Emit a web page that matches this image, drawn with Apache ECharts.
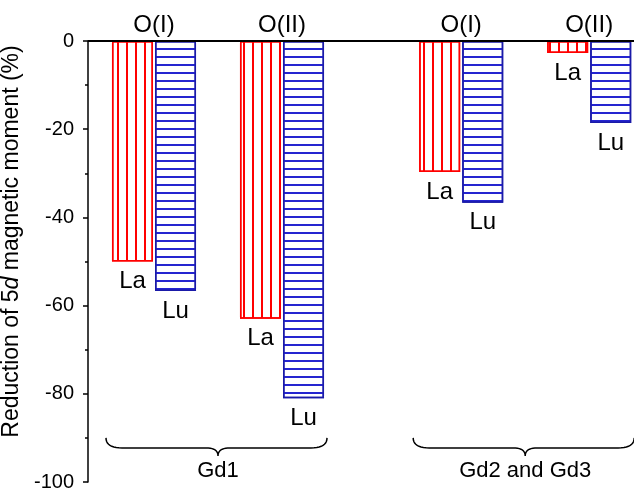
<!DOCTYPE html>
<html><head><meta charset="utf-8">
<script src="https://cdn.jsdelivr.net/npm/echarts@6/dist/echarts.min.js"></script>
<style>html,body{margin:0;padding:0;background:#fff}#c{width:634px;height:493px}</style>
</head><body><div id="c"></div>
<script>
// ---- data ----
const categories = ['O(I)', 'O(II)', 'O(I)', 'O(II)'];
const groupOf = [0, 0, 1, 1];
const groups = ['Gd1', 'Gd2 and Gd3'];
const seriesNames = ['La', 'Lu'];
const laValues = [-50, -63, -29.7, -2.7];
const luValues = [-56.7, -81, -36.7, -18.6];
const yTicks = [0, -20, -40, -60, -80, -100];

// ---- layout (slots on category axis) ----
const FONT = 'Liberation Sans, Arial, Helvetica, sans-serif';
const lead = 2, inGroup = 5, betweenGroups = 7, tail = 2;
const slotIdx = [];
let s = lead;
for (let i = 0; i < categories.length; i++) {
  if (i > 0) s += (groupOf[i] === groupOf[i - 1]) ? inGroup : betweenGroups;
  slotIdx.push(s);
}
const nSlots = s + tail;
const slotNames = [], slotLabels = [];
const laData = [], luData = [];
for (let k = 0; k < nSlots; k++) { slotNames.push('s' + k); slotLabels.push(''); laData.push(null); luData.push(null); }
slotIdx.forEach((k, i) => { slotLabels[k] = categories[i]; laData[k] = laValues[i]; luData[k] = luValues[i]; });

const gridLeft = 90, slotW = 25.6, yOffset = 2;
const chart = echarts.init(document.getElementById('c'), null, {renderer: 'canvas'});

function barSeries(name, data, border, decal) {
  return {
    name: name, type: 'bar', data: data, barWidth: 41, barGap: '5%', clip: false,
    itemStyle: {color: '#fff', borderColor: border, borderWidth: 1.5, decal: decal},
    label: {show: true, position: 'bottom', distance: 8, formatter: name,
      fontSize: 24, color: '#000', fontFamily: FONT},
    emphasis: {disabled: true}
  };
}

chart.setOption({
  animation: false,
  backgroundColor: '#fff',
  grid: {left: gridLeft, top: 41, bottom: 11, width: nSlots * slotW, outerBoundsMode: 'none', containLabel: false},
  xAxis: {
    type: 'category', position: 'top', data: slotNames, boundaryGap: true,
    axisLine: {show: true, onZero: false, lineStyle: {color: '#000', width: 2}},
    axisTick: {show: false},
    axisLabel: {interval: 0, formatter: (v, i) => slotLabels[i], fontSize: 24, color: '#000',
      fontFamily: FONT, margin: 4},
    splitLine: {show: false}
  },
  yAxis: {
    type: 'value', min: yTicks[yTicks.length - 1], max: yTicks[0], interval: 20, offset: yOffset,
    axisLine: {show: true, lineStyle: {color: '#000', width: 1.5}},
    axisTick: {show: true, length: 5, lineStyle: {color: '#000', width: 1.5}},
    minorTick: {show: true, splitNumber: 2, length: 3, lineStyle: {color: '#000', width: 1.5}},
    splitLine: {show: false},
    axisLabel: {fontSize: 20, color: '#000', fontFamily: FONT, margin: 14},
    name: 'Reduction of 5{i|d} magnetic moment (%)',
    nameLocation: 'middle', nameGap: 58,
    nameTextStyle: {fontSize: 23, color: '#000', fontFamily: FONT, padding: [0, 0, 0, 40],
      rich: {i: {fontSize: 23, fontStyle: 'italic', color: '#000', fontFamily: FONT}}}
  },
  series: [
    barSeries(seriesNames[0], laData, '#ff0000',
      {symbol: 'rect', symbolSize: 1, color: '#ff0000', dashArrayX: [1.2, 6.5], dashArrayY: [1, 0]}),
    barSeries(seriesNames[1], luData, '#1a1aa8',
      {symbol: 'rect', symbolSize: 1, color: '#2525d0', dashArrayX: [1, 0], dashArrayY: [1.8, 5.4]})
  ]
});

// braces and group labels
function quad(p0, p1, p2, n, out) {
  for (let t = 1; t <= n; t++) {
    const u = t / n, a = (1 - u) * (1 - u), b = 2 * u * (1 - u), c = u * u;
    out.push([a * p0[0] + b * p1[0] + c * p2[0], a * p0[1] + b * p1[1] + c * p2[1]]);
  }
}
const y0 = chart.convertToPixel({yAxisIndex: 0}, 0);
const yb = chart.convertToPixel({yAxisIndex: 0}, -90);
const graphics = [{
  type: 'line', z: 10,
  shape: {x1: gridLeft - yOffset, y1: y0, x2: 634, y2: y0},
  style: {stroke: '#000', lineWidth: 2}
}];
groups.forEach((g, gi) => {
  const idx = [];
  groupOf.forEach((gg, i) => { if (gg === gi) idx.push(i); });
  const xa = chart.convertToPixel({xAxisIndex: 0}, slotNames[slotIdx[idx[0]]]);
  const xb = chart.convertToPixel({xAxisIndex: 0}, slotNames[slotIdx[idx[idx.length - 1]]]);
  const x0 = xa - 48, x1 = xb + 45, xm = (xa + xb) / 2;
  const y1 = yb + 10, y2 = yb + 18;
  const pts = [[x0, yb]];
  quad([x0, yb], [x0, y1], [x0 + 16, y1], 10, pts);
  pts.push([xm - 12, y1]);
  quad([xm - 12, y1], [xm, y1], [xm, y2], 10, pts);
  quad([xm, y2], [xm, y1], [xm + 12, y1], 10, pts);
  pts.push([x1 - 16, y1]);
  quad([x1 - 16, y1], [x1, y1], [x1, yb], 10, pts);
  graphics.push({type: 'polyline', shape: {points: pts}, style: {fill: null, stroke: '#000', lineWidth: 1.5}});
  graphics.push({type: 'text', x: xm, y: y2 + 15,
    style: {text: g, fill: '#000', font: '22px ' + FONT, align: 'center', verticalAlign: 'middle'}});
});
chart.setOption({graphic: graphics});
</script></body></html>
